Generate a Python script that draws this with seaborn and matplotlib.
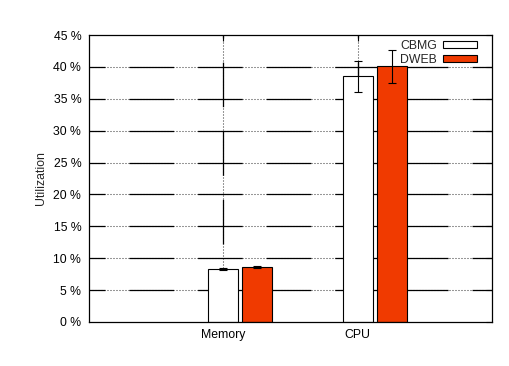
import matplotlib
matplotlib.use("Agg")
import matplotlib.pyplot as plt
import seaborn as sns
import pandas as pd

# ---- data ----
categories = ["Memory", "CPU"]
series = ["CBMG", "DWEB"]
cbmg_vals = [8.3, 38.5]
cbmg_err = [0.15, 2.4]
dweb_vals = [8.6, 40.1]
dweb_err = [0.15, 2.55]
ytick_vals = [0, 5, 10, 15, 20, 25, 30, 35, 40, 45]
ytick_labels = ["0 %", "5 %", "10 %", "15 %", "20 %", "25 %", "30 %", "35 %", "40 %", "45 %"]
colors = ["#FFFFFF", "#F03A00"]

df = pd.DataFrame({
    "resource": categories * 2,
    "series": [series[0]] * 2 + [series[1]] * 2,
    "util": cbmg_vals + dweb_vals,
})
errs = {series[0]: cbmg_err, series[1]: dweb_err}

sns.set_theme(style="white")
plt.rcParams["font.family"] = ["Liberation Sans", "DejaVu Sans"]
plt.rcParams["lines.scale_dashes"] = False

fig = plt.figure(figsize=(5.10, 3.66), dpi=100)
ax = fig.add_axes([89 / 510, 1 - 322 / 366, (492 - 89) / 510, (322 - 35) / 366])

FS = 8.8
sns.barplot(data=df, x="resource", y="util", hue="series", order=categories,
            hue_order=series, palette=colors, saturation=1, edgecolor="black",
            linewidth=0.8, width=0.507, gap=0.118, errorbar=None, ax=ax, zorder=2)

# error bars on the bars drawn by seaborn
for cont, name in zip(ax.containers, series):
    xs = [b.get_x() + b.get_width() / 2 for b in cont]
    hs = [b.get_height() for b in cont]
    ax.errorbar(xs, hs, yerr=errs[name], fmt="none", ecolor="black",
                elinewidth=0.8, capsize=2.6, capthick=0.8, zorder=3)

# x ticks at the first series bars (as in the original)
xt = [b.get_x() + b.get_width() / 2 for b in ax.containers[0]]
step = xt[1] - xt[0]
ax.set_xlim(xt[0] - step, xt[1] + step)
ax.set_xticks(xt)
ax.set_xticklabels(categories, fontsize=FS)
ax.set_ylim(ytick_vals[0], ytick_vals[-1])
ax.set_yticks(ytick_vals)
ax.set_yticklabels(ytick_labels, fontsize=FS)
ax.set_xlabel("")
ax.set_ylabel("Utilization", fontsize=FS, labelpad=5)
ax.tick_params(axis="both", direction="in", length=4, width=0.8, color="black",
               labelcolor="black", top=True, right=True)
ax.tick_params(axis="y", pad=5.5)
ax.tick_params(axis="x", pad=5)

# gnuplot-like grid: solid segments alternating with dotted ones
for y in ytick_vals[1:-1]:
    ax.axhline(y, color="#333333", lw=0.75, ls=(0, (0.72, 1.44)), zorder=0.5)
    ax.axhline(y, color="black", lw=0.9, ls=(20.6, (32.1, 17.3)), zorder=0.6)
for x in xt:
    ax.axvline(x, color="#333333", lw=0.75, ls=(0, (0.72, 1.44)), zorder=0.5)
    ax.axvline(x, color="black", lw=0.9, ls=(42.6, (32.1, 17.3)), zorder=0.6)

for s in ax.spines.values():
    s.set_color("black")
    s.set_linewidth(0.9)
    s.set_zorder(5)

handles, labels = ax.get_legend_handles_labels()
ax.legend(handles, labels, loc="upper right", bbox_to_anchor=(0.963, 0.983),
          frameon=False, markerfirst=False, fontsize=FS, handlelength=2.8,
          handleheight=0.45, handletextpad=0.5, labelspacing=0.15,
          borderpad=0, borderaxespad=0)

fig.savefig("out.png", dpi=100)
